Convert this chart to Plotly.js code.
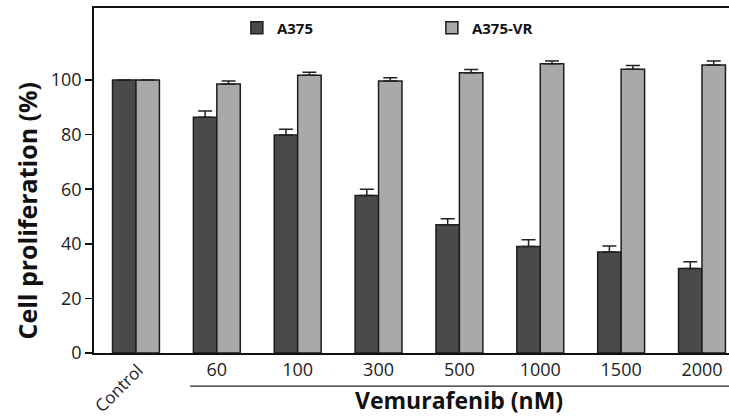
<!DOCTYPE html>
<html>
<head>
<meta charset="utf-8">
<script src="https://cdn.plot.ly/plotly-3.0.1.min.js"></script>
<style>html,body{margin:0;padding:0;background:#fff;}#chart{width:729px;height:417px;}</style>
</head>
<body>
<div id="chart"></div>
<script>
const categories = ["Control", "60", "100", "300", "500", "1000", "1500", "2000"];
const a375 = [100, 86.4, 79.9, 57.7, 47.0, 39.0, 37.0, 31.0];
const a375Err = [0, 2.3, 2.1, 2.3, 2.2, 2.5, 2.2, 2.4];
const a375vr = [100, 98.6, 101.8, 99.7, 102.7, 106.0, 104.0, 105.5];
const a375vrErr = [0, 1.1, 1.1, 1.1, 1.2, 1.0, 1.3, 1.5];
const tickLabels = ["", "60", "100", "300", "500", "1000", "1500", "2000"];
const yTicks = [0, 20, 40, 60, 80, 100];

const zeros = categories.map(() => 0);
const font = "Open Sans, Liberation Sans, sans-serif";

const traces = [
  {
    type: "bar", name: "A375", x: categories, y: a375,
    marker: {color: "#4a4a4a", line: {color: "#1e1e1e", width: 1.5}},
    error_y: {type: "data", symmetric: false, array: a375Err, arrayminus: zeros, color: "#222", thickness: 1.5, width: 7}
  },
  {
    type: "bar", name: "A375-VR", x: categories, y: a375vr,
    marker: {color: "#a9a9a9", line: {color: "#1e1e1e", width: 1.5}},
    error_y: {type: "data", symmetric: false, array: a375vrErr, arrayminus: zeros, color: "#222", thickness: 1.5, width: 7}
  }
];

const layout = {
  width: 729, height: 417,
  margin: {l: 94, r: 0, t: 8, b: 64},
  paper_bgcolor: "#fff", plot_bgcolor: "#fff",
  barmode: "group", bargap: 0.42, bargroupgap: 0,
  font: {family: font, color: "#222"},
  showlegend: true,
  legend: {
    orientation: "h", x: 0.225, xanchor: "left", y: 0.942, yanchor: "middle",
    font: {size: 15, family: font, color: "#111", weight: "bold"},
    entrywidth: 150, bgcolor: "rgba(0,0,0,0)"
  },
  xaxis: {
    type: "category", range: [-0.519, 7.334],
    tickvals: categories, ticktext: tickLabels,
    showline: true, linecolor: "#111", linewidth: 1.8, mirror: true,
    ticks: "", tickangle: 0,
    tickfont: {size: 18, family: font, color: "#222"},
    showgrid: false, zeroline: false, fixedrange: true
  },
  yaxis: {
    range: [0, 126.4], tickvals: yTicks,
    showline: true, linecolor: "#111", linewidth: 1.8,
    ticks: "outside", ticklen: 7, tickwidth: 1.5, tickcolor: "#111",
    tickfont: {size: 18, family: font, color: "#222"},
    showgrid: false, zeroline: false
  },
  shapes: [
    {type: "line", xref: "x", yref: "paper", x0: 0.67, x1: 7.4, y0: -0.096, y1: -0.096, line: {color: "#222", width: 1.2}}
  ],
  annotations: [
    {text: "Control", xref: "x", yref: "paper", x: 0, y: -0.1, xanchor: "center", yanchor: "middle", xshift: -17, textangle: -45, showarrow: false,
     font: {size: 17, family: font, color: "#222"}},
    {text: "Vemurafenib (nM)", xref: "paper", yref: "paper", x: 0.575, y: -0.136, yanchor: "middle", showarrow: false,
     font: {size: 23, family: font, color: "#111", weight: "bold"}},
    {text: "Cell proliferation (%)", xref: "paper", yref: "paper", x: -0.106, y: 0.412, xanchor: "center", yanchor: "middle", textangle: -90, showarrow: false,
     font: {size: 25, family: font, color: "#111", weight: "bold"}}
  ]
};

Plotly.newPlot("chart", traces, layout, {staticPlot: true, displayModeBar: false});
</script>
</body>
</html>
